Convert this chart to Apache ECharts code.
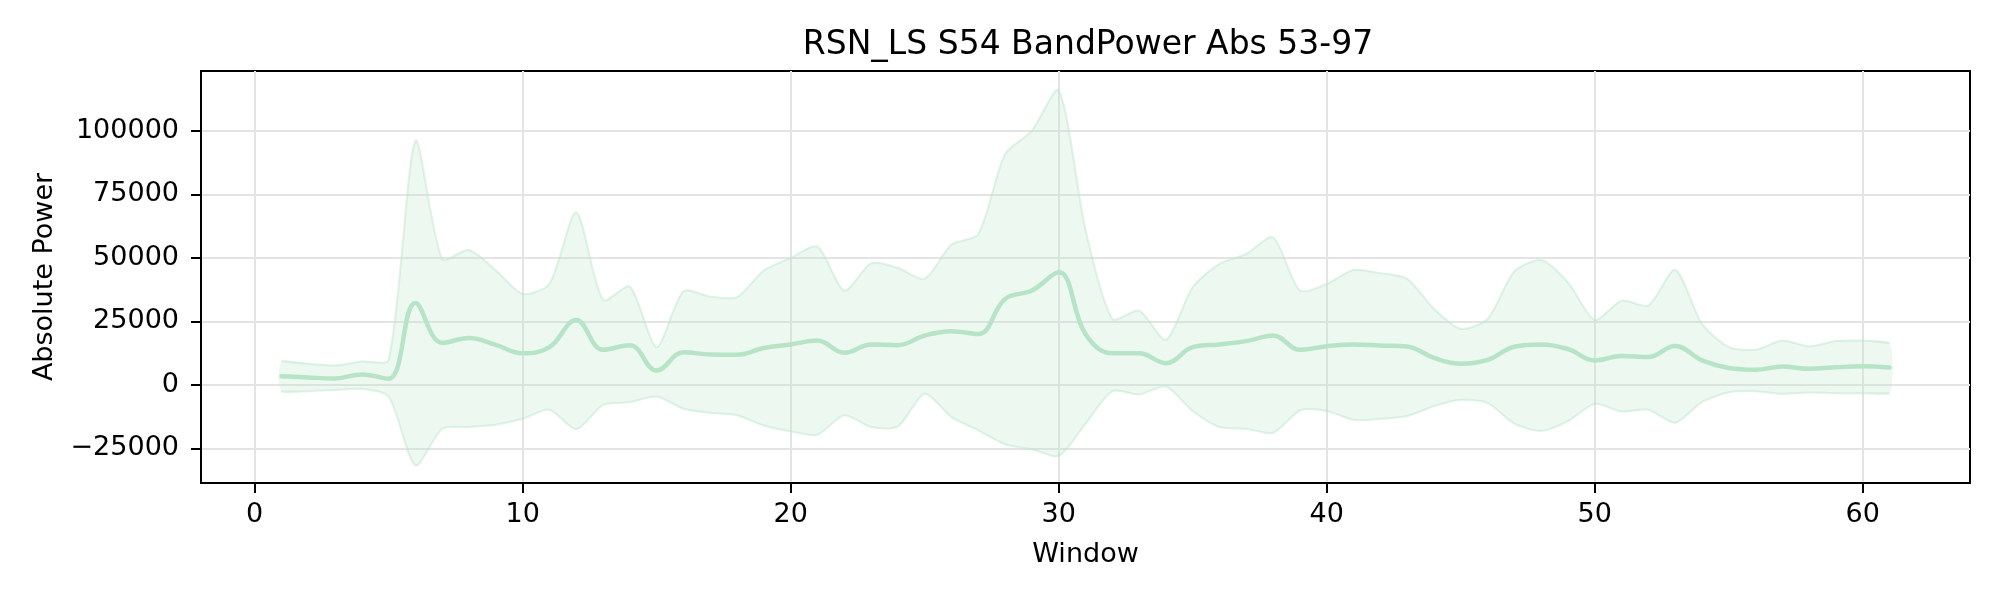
<!DOCTYPE html>
<html>
<head>
<meta charset="utf-8">
<script src="https://cdn.jsdelivr.net/npm/echarts@6/dist/echarts.min.js"></script>
<style>
  html, body { margin: 0; padding: 0; background: #fff; }
  #chart { width: 2000px; height: 600px; }
</style>
</head>
<body>
<div id="chart"></div>
<script>
  // window index (1..61)
  const windows = [];
  for (let i = 1; i <= 61; i++) windows.push(i);

  // mean absolute power per window
  const meanPower = [
    3400, 2900, 2500, 4100, 2400, 32200, 16500, 18400, 15700, 12400,
    14800, 25500, 13800, 15600, 5600, 12800, 11900, 11800, 14500, 15900,
    17400, 12600, 15900, 15600, 19400, 21100, 20000, 33800, 37100, 44300,
    20000, 12400, 12400, 8500, 14800, 15900, 17200, 19400, 13800, 15200,
    15900, 15500, 15100, 10600, 8300, 9800, 15000, 15900, 14100, 9600,
    11300, 10900, 15300, 9600, 6600, 5900, 7200, 6300, 6900, 7300,
    6800
  ];

  // upper edge of the shaded band
  const upperPower = [
    9300, 8300, 7600, 9200, 9800, 96000, 49500, 53100, 45000, 35800,
    39700, 67900, 33400, 38600, 14800, 36800, 34700, 34500, 45000, 49900,
    54400, 37100, 47800, 46000, 41700, 55200, 59300, 90800, 100000, 115900,
    61000, 25900, 29200, 17700, 38400, 47600, 51500, 58000, 37100, 39700,
    45200, 43900, 41700, 29900, 22000, 25900, 44600, 49100, 40300, 25500,
    33100, 31200, 45300, 24000, 14800, 13800, 17400, 15100, 17200, 17400,
    16400
  ];

  // lower edge of the shaded band
  const lowerPower = [
    -2600, -2500, -2000, -1600, -4600, -31700, -17300, -16600, -15700, -13400,
    -9800, -17500, -7900, -6800, -4600, -9400, -11000, -12000, -16000, -18300,
    -19600, -12000, -16600, -16400, -3500, -12700, -17900, -23400, -25400, -28000,
    -15300, -2500, -3800, -700, -10300, -16600, -17300, -18900, -10100, -10300,
    -13800, -13400, -12300, -8400, -5900, -7100, -15300, -18200, -14300, -7500,
    -10500, -9800, -14900, -6800, -2900, -2500, -3500, -3000, -3300, -3300,
    -3300
  ];

  const xTicks = [0, 10, 20, 30, 40, 50, 60];
  const yTicks = [-25000, 0, 25000, 50000, 75000, 100000];

  const GREEN = '#b7e4c7';
  const BAND_FILL = 'rgba(183,228,199,0.27)';
  const BAND_EDGE = 'rgba(183,228,199,0.45)';
  const FONT = 'DejaVu Sans';

  const bandData = windows.map((w, i) => [w, lowerPower[i], upperPower[i]]);
  const meanData = windows.map((w, i) => [w, meanPower[i]]);

  // band drawn once as a closed shape through the axis scales
  function renderBand(params, api) {
    if (params.dataIndex !== 0) return null;
    const up = bandData.map(d => api.coord([d[0], d[2]]));
    const lo = bandData.map(d => api.coord([d[0], d[1]]));
    const sm = 0.25;
    return {
      type: 'group',
      children: [
        {
          type: 'polygon',
          shape: { points: up.concat(lo.slice().reverse()), smooth: sm },
          style: { fill: BAND_FILL, stroke: null }
        },
        {
          type: 'polyline',
          shape: { points: up, smooth: sm },
          style: { fill: null, stroke: BAND_EDGE, lineWidth: 2 }
        },
        {
          type: 'polyline',
          shape: { points: lo, smooth: sm },
          style: { fill: null, stroke: BAND_EDGE, lineWidth: 2 }
        }
      ]
    };
  }

  const chart = echarts.init(document.getElementById('chart'), null, { renderer: 'canvas' });

  const axisCommon = {
    type: 'value',
    axisLine: { show: true, onZero: false, lineStyle: { color: '#000', width: 2 } },
    axisTick: { show: true, length: 10, lineStyle: { color: '#000', width: 2 } },
    splitLine: { show: true, lineStyle: { color: '#e4e4e4', width: 2 } },
    nameTextStyle: { fontFamily: FONT, fontSize: 27, color: '#000' }
  };

  chart.setOption({
    animation: false,
    backgroundColor: '#fff',
    title: {
      text: 'RSN_LS S54 BandPower Abs 53-97',
      left: 1083,
      top: 24,
      textAlign: 'center',
      textStyle: { fontFamily: FONT, fontSize: 33, fontWeight: 'normal', color: '#000' }
    },
    grid: {
      left: 201, right: 30, top: 71, bottom: 117,
      show: true, borderColor: '#000', borderWidth: 2, backgroundColor: 'transparent'
    },
    xAxis: Object.assign({}, axisCommon, {
      min: -2,
      max: 64,
      name: 'Window',
      nameLocation: 'middle',
      nameGap: 58,
      axisTick: Object.assign({}, axisCommon.axisTick, { customValues: xTicks }),
      axisLabel: {
        customValues: xTicks,
        margin: 18,
        fontFamily: FONT, fontSize: 27, color: '#000'
      }
    }),
    yAxis: Object.assign({}, axisCommon, {
      min: -38660,
      max: 123540,
      name: 'Absolute Power',
      nameLocation: 'middle',
      nameGap: 143,
      axisTick: Object.assign({}, axisCommon.axisTick, { customValues: yTicks }),
      axisLabel: {
        customValues: yTicks,
        margin: 22,
        fontFamily: FONT, fontSize: 27, color: '#000',
        formatter: v => String(v).replace('-', '\u2212')
      }
    }),
    series: [
      {
        name: 'band',
        type: 'custom',
        renderItem: renderBand,
        data: bandData,
        encode: { x: 0, y: [1, 2] },
        silent: true,
        z: 1
      },
      {
        name: 'mean',
        type: 'line',
        data: meanData,
        smooth: 0.4,
        symbol: 'none',
        lineStyle: { color: GREEN, width: 4.5, cap: 'round' },
        z: 3
      }
    ]
  });
</script>
</body>
</html>
